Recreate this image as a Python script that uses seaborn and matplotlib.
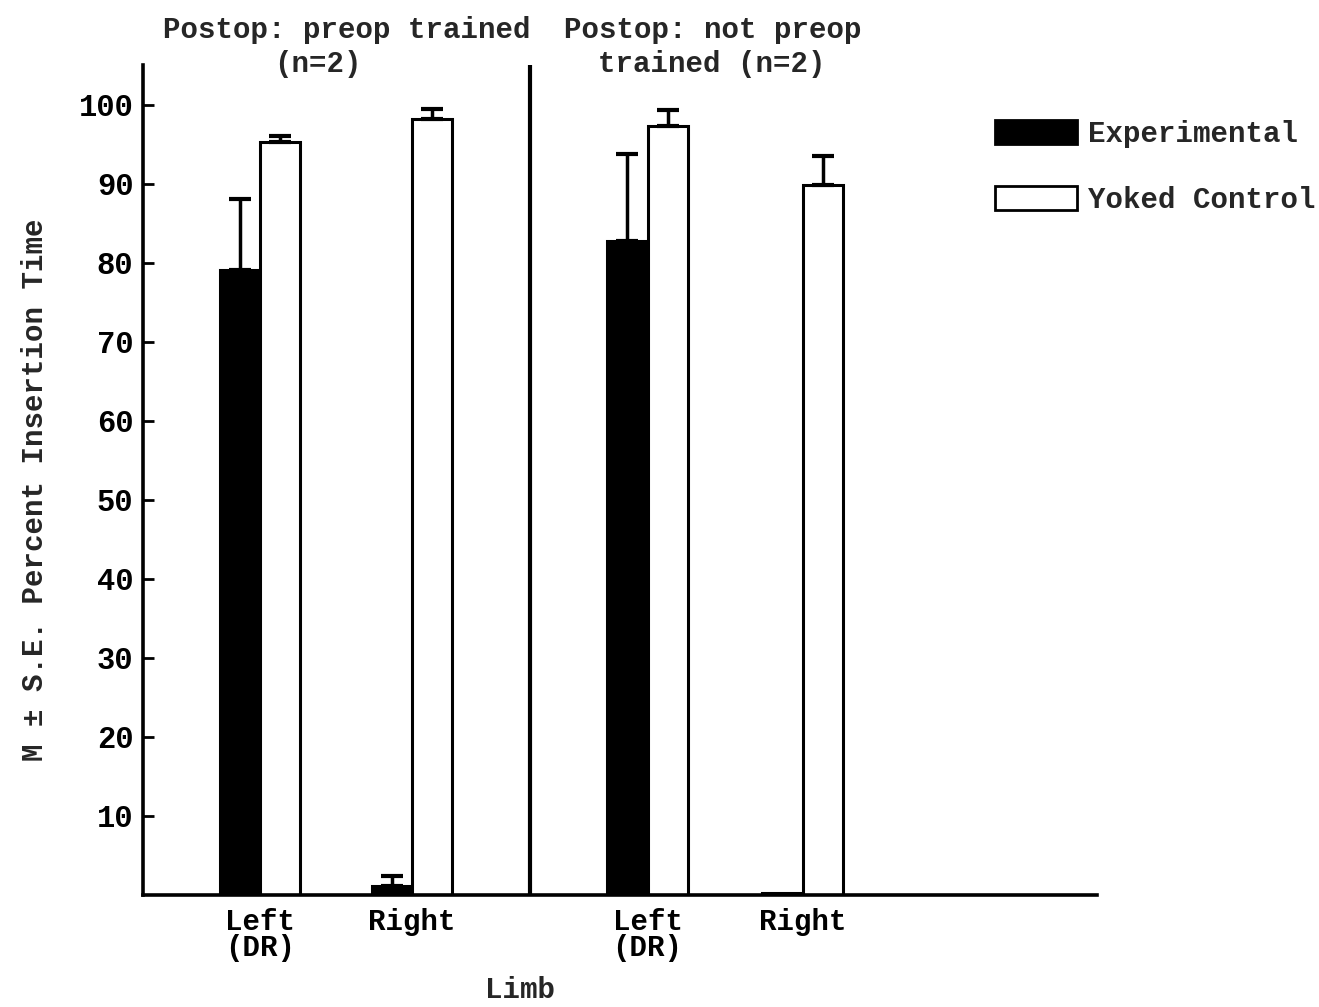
import numpy as np
import pandas as pd
import matplotlib
matplotlib.use("Agg")
import matplotlib.pyplot as plt
from matplotlib.patches import Patch
import matplotlib.transforms as mtransforms
import seaborn as sns

# ---------------- data ----------------
limbs = ["Left\n(DR)", "Right", "Left\n(DR)", "Right"]
conditions = ["Experimental", "Yoked Control"]
exp_mean = [79.1, 1.1, 82.7, 0.3]
exp_se = [8.9, 1.3, 11.0, 0.0]
yoked_mean = [95.2, 98.2, 97.3, 89.8]
yoked_se = [0.8, 1.2, 2.0, 3.7]
yticks = [10, 20, 30, 40, 50, 60, 70, 80, 90, 100]

# ---------------- layout ----------------
slot_pos = [0.0, 1.0, 2.55, 3.57]

rows = []
for i in range(len(limbs)):
    rows.append({"pos": slot_pos[i], "cond": conditions[0], "mean": exp_mean[i], "se": exp_se[i]})
    rows.append({"pos": slot_pos[i], "cond": conditions[1], "mean": yoked_mean[i], "se": yoked_se[i]})
df = pd.DataFrame(rows)

sns.set_theme(style="white")
plt.rcParams["font.family"] = ["Liberation Mono", "DejaVu Sans Mono"]
plt.rcParams["font.weight"] = "bold"

W, H = 1319, 1007
fig = plt.figure(figsize=(W / 100, H / 100), dpi=100)
ax = fig.add_axes([143 / W, 1 - 895 / H, (1097 - 143) / W, (895 - 65) / H])

sns.barplot(data=df, x="pos", y="mean", hue="cond", hue_order=conditions,
            native_scale=True, width=0.53, gap=0,
            palette={"Experimental": "black", "Yoked Control": "white"},
            edgecolor="black", linewidth=2.2, errorbar=None, legend=False, ax=ax)

# upward-only error bars
patches = sorted(ax.patches, key=lambda p: p.get_x())
df_sorted = df.sort_values(["pos"], kind="stable").reset_index(drop=True)
for p, (_, r) in zip(patches, df_sorted.iterrows()):
    if r["se"] <= 0:
        continue
    cx = p.get_x() + p.get_width() / 2
    ax.errorbar([cx], [r["mean"]], yerr=[[0], [r["se"]]], fmt="none",
                ecolor="black", elinewidth=2.5, capsize=8, capthick=3, zorder=1)

ax.set_xlim(-0.77, 5.507)
ax.set_ylim(0, 105)

# divider between the two groups
ax.axvline((slot_pos[1] + slot_pos[2]) / 2, color="black", lw=3)

for s in ["top", "right"]:
    ax.spines[s].set_visible(False)
for s in ["left", "bottom"]:
    ax.spines[s].set_linewidth(2.6)
    ax.spines[s].set_color("black")

ax.set_xticks(slot_pos)
ax.set_xticklabels(limbs, fontsize=21, fontweight="bold", linespacing=0.95)
ax.set_yticks(yticks)
ax.set_yticklabels([str(t) for t in yticks], fontsize=22, fontweight="bold")
ax.tick_params(axis="x", length=0, pad=9, colors="black")
ax.tick_params(axis="y", direction="in", length=8, width=2, pad=7, colors="black", left=True)

ax.set_xlabel("Limb", fontsize=21, fontweight="bold")
ax.xaxis.set_label_coords((520 - 143) / (1097 - 143), -0.097)
ax.set_ylabel("")
fig.text(35 / W, 1 - 490 / H, "M \u00b1 S.E. Percent Insertion Time", rotation=90,
         ha="center", va="center", fontsize=21, fontweight="bold")

# group headings
trans = mtransforms.blended_transform_factory(ax.transData, fig.transFigure)
def px2x(px):
    return slot_pos[0] + (px - 260) / 152.0
ax.text(px2x(347), 1 - 30 / H, "Postop: preop trained", transform=trans,
        ha="center", va="center", fontsize=21, fontweight="bold")
ax.text(px2x(318), 1 - 64 / H, "(n=2)", transform=trans,
        ha="center", va="center", fontsize=21, fontweight="bold")
ax.text(px2x(713), 1 - 30 / H, "Postop: not preop", transform=trans,
        ha="center", va="center", fontsize=21, fontweight="bold")
ax.text(px2x(712), 1 - 64 / H, "trained (n=2)", transform=trans,
        ha="center", va="center", fontsize=21, fontweight="bold")

handles = [Patch(facecolor="black", edgecolor="black", linewidth=2),
           Patch(facecolor="white", edgecolor="black", linewidth=2)]
fig.legend(handles, conditions, loc="upper left",
           bbox_to_anchor=(995 / W, 1 - 120 / H), frameon=False,
           prop={"family": "Liberation Mono", "weight": "bold", "size": 21},
           handlelength=2.8, handleheight=0.9, handletextpad=0.4,
           labelspacing=1.3, borderpad=0, borderaxespad=0)

fig.savefig("out.png", dpi=100, facecolor="white")
